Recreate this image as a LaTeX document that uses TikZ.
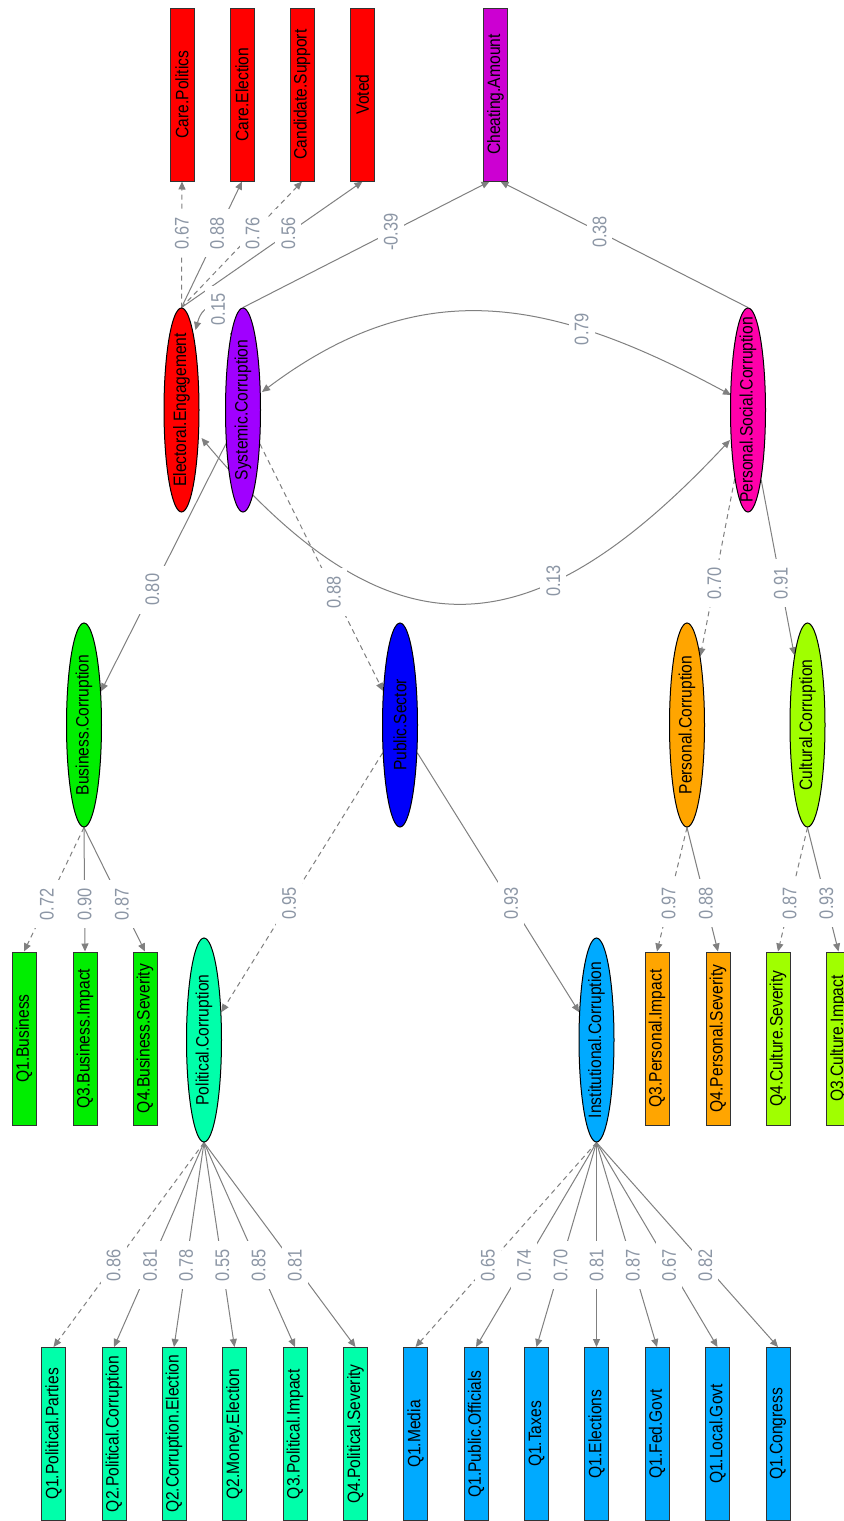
\documentclass[tikz,border=0pt]{standalone}
\usepackage{fontspec}
\setmainfont{Liberation Sans}
\usetikzlibrary{arrows.meta,shapes.geometric}

\definecolor{edgegray}{RGB}{128,128,128}
\definecolor{labgray}{RGB}{140,150,165}
\definecolor{cred}{RGB}{255,0,0}
\definecolor{cpurple}{RGB}{160,0,255}
\definecolor{cmagenta}{RGB}{204,0,210}
\definecolor{cpink}{RGB}{255,0,170}
\definecolor{cgreen}{RGB}{0,238,0}
\definecolor{cblue}{RGB}{0,0,250}
\definecolor{corange}{RGB}{255,165,0}
\definecolor{clime}{RGB}{160,255,0}
\definecolor{cmint}{RGB}{0,255,170}
\definecolor{csky}{RGB}{0,170,255}

\pgfdeclarelayer{bg}
\pgfdeclarelayer{back}
\pgfsetlayers{bg,back,main}

% upright text turned to read from bottom to top, taking no vertical room
\newcommand{\vtext}[1]{\rotatebox{90}{\makebox[0pt]{\scalebox{1}[1.15]{#1}}}}
% path coefficient, turned the same way
\newcommand{\coefv}[1]{\rotatebox{90}{\scalebox{1}[1.2]{#1}}}

\tikzset{
  latent/.style={ellipse, draw=black, line width=0.5pt, minimum width=17.5pt,
    minimum height=102pt, inner sep=0pt, font=\fontsize{7.8}{9}\selectfont},
  manifest/.style={rectangle, draw=black!80, line width=0.5pt, minimum width=12pt,
    minimum height=86.5pt, inner sep=0pt, font=\fontsize{7.8}{9}\selectfont},
  link/.style={draw=edgegray, line width=0.5pt, -{Triangle[length=4pt,width=3.5pt]}},
  fixedlink/.style={link, dash pattern=on 2.5pt off 2pt},
  cov/.style={draw=edgegray, line width=0.5pt,
    {Triangle[length=4pt,width=3.5pt]}-{Triangle[length=4pt,width=3.5pt]}},
  coef/.style={fill=white, text=labgray, inner xsep=3pt, inner ysep=4pt,
    font=\fontsize{8.2}{9}\selectfont},
}

\begin{document}
\begin{tikzpicture}[x=0.5pt, y=-0.5pt]
\begin{pgfonlayer}{bg}
  \fill[white] (0,0) rectangle (843,1521);
\end{pgfonlayer}
\useasboundingbox (0,0) rectangle (843,1521);

% outcome indicators
\node[manifest, fill=cred] (cpol)  at (182,94.5)   {\vtext{Care.Politics}};
\node[manifest, fill=cred] (celec) at (242,94.5)   {\vtext{Care.Election}};
\node[manifest, fill=cred] (csup)  at (302,94.5)   {\vtext{Candidate.Support}};
\node[manifest, fill=cred] (voted) at (362.5,94.5) {\vtext{Voted}};
\node[manifest, fill=cmagenta] (cheat) at (495.5,94.5) {\vtext{Cheating.Amount}};

% higher-order factors
\node[latent, fill=cred]    (ee)  at (181.5,410) {\vtext{Electoral.Engagement}};
\node[latent, fill=cpurple] (sys) at (243,410)   {\vtext{Systemic.Corruption}};
\node[latent, fill=cpink]   (psc) at (748,410)   {\vtext{Personal.Social.Corruption}};

% second level
\node[latent, fill=cgreen]  (bus)  at (84,725)    {\vtext{Business.Corruption}};
\node[latent, fill=cblue]   (pub)  at (400,725)   {\vtext{Public.Sector}};
\node[latent, fill=corange] (pers) at (687,725)   {\vtext{Personal.Corruption}};
\node[latent, fill=clime]   (cult) at (807.5,725) {\vtext{Cultural.Corruption}};

% third level
\node[manifest, fill=cgreen] (qb1) at (24,1038.5)  {\vtext{Q1.Business}};
\node[manifest, fill=cgreen] (qb3) at (85,1038.5)  {\vtext{Q3.Business.Impact}};
\node[manifest, fill=cgreen] (qb4) at (145,1038.5) {\vtext{Q4.Business.Severity}};
\node[latent, fill=cmint] (pol)  at (204,1040)   {\vtext{Political.Corruption}};
\node[latent, fill=csky]  (inst) at (596.5,1040) {\vtext{Institutional.Corruption}};
\node[manifest, fill=corange] (qp3) at (657,1038.5)   {\vtext{Q3.Personal.Impact}};
\node[manifest, fill=corange] (qp4) at (718,1038.5)   {\vtext{Q4.Personal.Severity}};
\node[manifest, fill=clime]   (qc4) at (778,1038.5)   {\vtext{Q4.Culture.Severity}};
\node[manifest, fill=clime]   (qc3) at (838.5,1038.5) {\vtext{Q3.Culture.Impact}};

% item indicators
\node[manifest, fill=cmint] (pp1) at (53.5,1434)  {\vtext{Q1.Political.Parties}};
\node[manifest, fill=cmint] (pp2) at (114,1434)   {\vtext{Q2.Political.Corruption}};
\node[manifest, fill=cmint] (pp3) at (174,1434)   {\vtext{Q2.Corruption.Election}};
\node[manifest, fill=cmint] (pp4) at (234.5,1434) {\vtext{Q2.Money.Election}};
\node[manifest, fill=cmint] (pp5) at (295,1434)   {\vtext{Q3.Political.Impact}};
\node[manifest, fill=cmint] (pp6) at (355.5,1434) {\vtext{Q4.Political.Severity}};
\node[manifest, fill=csky] (in1) at (415.5,1434) {\vtext{Q1.Media}};
\node[manifest, fill=csky] (in2) at (476,1434)   {\vtext{Q1.Public.Officials}};
\node[manifest, fill=csky] (in3) at (536.5,1434) {\vtext{Q1.Taxes}};
\node[manifest, fill=csky] (in4) at (596.5,1434) {\vtext{Q1.Elections}};
\node[manifest, fill=csky] (in5) at (657,1434)   {\vtext{Q1.Fed.Govt}};
\node[manifest, fill=csky] (in6) at (717.5,1434) {\vtext{Q1.Local.Govt}};
\node[manifest, fill=csky] (in7) at (778,1434)   {\vtext{Q1.Congress}};

\begin{pgfonlayer}{back}
% electoral engagement loadings
\draw[fixedlink] (ee.north) -- (cpol.south)  node[coef,pos=0.59] {\coefv{0.67}};
\draw[link]      (ee.north) -- (celec.south) node[coef,pos=0.59] {\coefv{0.88}};
\draw[fixedlink] (ee.north) -- (csup.south)  node[coef,pos=0.59] {\coefv{0.76}};
\draw[link]      (ee.north) -- (voted.south) node[coef,pos=0.59] {\coefv{0.56}};

% regressions on cheating
\draw[link] (sys.north) -- ([xshift=-3pt]cheat.south) node[coef,pos=0.6] {\coefv{-0.39}};
\draw[link] (psc.north) -- ([xshift=2.5pt]cheat.south) node[coef,pos=0.6] {\coefv{0.38}};

% systemic to engagement
\draw[link] ([shift={(-12,-75)}]sys.center) .. controls +(-6,-35) and +(8,-30) ..
  ([shift={(14,-80)}]ee.center) node[coef,pos=0.4] {\coefv{0.15}};

% covariances
\draw[cov] ([shift={(19,-18)}]sys.center) .. controls +(161,-121) and +(-178,-96) ..
  ([shift={(-17,-15)}]psc.center) node[coef,pos=0.7] {\coefv{0.79}};
\draw[cov] ([shift={(20,28)}]ee.center) .. controls +(189,224) and +(-199,213) ..
  ([shift={(-18,30)}]psc.center) node[coef,pos=0.68] {\coefv{0.13}};

% second-order loadings
\draw[link]      (sys) -- (bus)  node[coef,pos=0.59] {\coefv{0.80}};
\draw[fixedlink] (sys) -- (pub)  node[coef,pos=0.6]  {\coefv{0.88}};
\draw[fixedlink] (psc) -- (pers) node[coef,pos=0.59] {\coefv{0.70}};
\draw[link]      (psc) -- (cult) node[coef,pos=0.59] {\coefv{0.91}};
\draw[fixedlink] (pub) -- (pol)  node[coef,pos=0.58] {\coefv{0.95}};
\draw[link]      (pub) -- (inst) node[coef,pos=0.58] {\coefv{0.93}};

% business, personal and cultural loadings
\draw[fixedlink] (bus.south) -- (qb1.north) node[coef,pos=0.62] {\coefv{0.72}};
\draw[link]      (bus.south) -- (qb3.north) node[coef,pos=0.62] {\coefv{0.90}};
\draw[link]      (bus.south) -- (qb4.north) node[coef,pos=0.62] {\coefv{0.87}};
\draw[fixedlink] (pers.south) -- (qp3.north) node[coef,pos=0.61] {\coefv{0.97}};
\draw[link]      (pers.south) -- (qp4.north) node[coef,pos=0.61] {\coefv{0.88}};
\draw[fixedlink] (cult.south) -- (qc4.north) node[coef,pos=0.61] {\coefv{0.87}};
\draw[link]      (cult.south) -- (qc3.north) node[coef,pos=0.61] {\coefv{0.93}};

% political corruption loadings
\draw[fixedlink] (pol.south) -- (pp1.north) node[coef,pos=0.6] {\coefv{0.86}};
\draw[link]      (pol.south) -- (pp2.north) node[coef,pos=0.6] {\coefv{0.81}};
\draw[link]      (pol.south) -- (pp3.north) node[coef,pos=0.6] {\coefv{0.78}};
\draw[link]      (pol.south) -- (pp4.north) node[coef,pos=0.6] {\coefv{0.55}};
\draw[link]      (pol.south) -- (pp5.north) node[coef,pos=0.6] {\coefv{0.85}};
\draw[link]      (pol.south) -- (pp6.north) node[coef,pos=0.6] {\coefv{0.81}};

% institutional corruption loadings
\draw[fixedlink] (inst.south) -- (in1.north) node[coef,pos=0.6] {\coefv{0.65}};
\draw[link]      (inst.south) -- (in2.north) node[coef,pos=0.6] {\coefv{0.74}};
\draw[link]      (inst.south) -- (in3.north) node[coef,pos=0.6] {\coefv{0.70}};
\draw[link]      (inst.south) -- (in4.north) node[coef,pos=0.6] {\coefv{0.81}};
\draw[link]      (inst.south) -- (in5.north) node[coef,pos=0.6] {\coefv{0.87}};
\draw[link]      (inst.south) -- (in6.north) node[coef,pos=0.6] {\coefv{0.67}};
\draw[link]      (inst.south) -- (in7.north) node[coef,pos=0.6] {\coefv{0.82}};
\end{pgfonlayer}
\end{tikzpicture}
\end{document}
